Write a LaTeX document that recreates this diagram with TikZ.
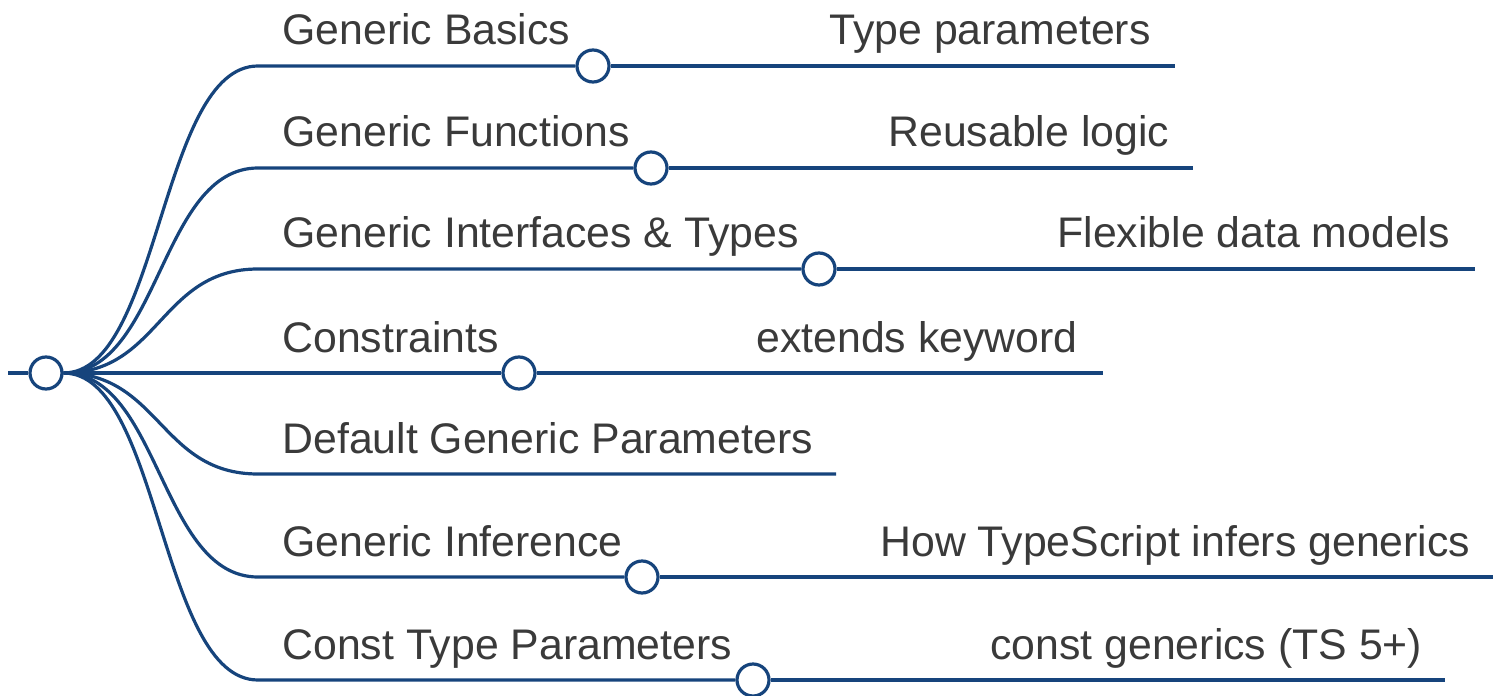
\documentclass[tikz,border=0pt]{standalone}
\usepackage{fontspec}
\setmainfont{Liberation Sans}
\definecolor{edge}{RGB}{22,68,124}
\definecolor{ink}{RGB}{58,58,58}
\begin{document}
\begin{tikzpicture}[x=0.5pt,y=-0.5pt,
  link/.style={draw=edge,line width=1.6pt},
  dot/.style={circle,draw=edge,fill=white,line width=1.6pt,minimum size=16pt,inner sep=0pt},
  lbl/.style={anchor=base west,inner sep=0pt,text=ink,font=\fontsize{21.4}{25}\selectfont}]
\useasboundingbox (0,0) rectangle (1502,695);

% root
\node[dot] (root) at (46,373) {};
\coordinate (r0) at (8,373);
\draw[link] (r0) -- (root);

% first-level labels and their knobs
\coordinate (p1s) at (258,66);
\coordinate (p2s) at (258,168);
\coordinate (p3s) at (258,269);
\coordinate (p4s) at (258,373);
\coordinate (p5s) at (258,474);
\coordinate (p6s) at (258,577);
\coordinate (p7s) at (258,680);

\node[lbl] (p1t) at (282,45) {Generic Basics};
\node[lbl] (p2t) at (282,147) {Generic Functions};
\node[lbl] (p3t) at (282,248) {Generic Interfaces \& Types};
\node[lbl] (p4t) at (282,352) {Constraints};
\node[lbl] (p5t) at (282,453) {Default Generic Parameters};
\node[lbl] (p6t) at (282,556) {Generic Inference};
\node[lbl] (p7t) at (282,659) {Const Type Parameters};

\node[dot] (p1c) at (593,66) {};
\node[dot] (p2c) at (651,168) {};
\node[dot] (p3c) at (819,269) {};
\node[dot] (p4c) at (519,373) {};
\coordinate (p5e) at (836,474);
\node[dot] (p6c) at (642,577) {};
\node[dot] (p7c) at (753,680) {};

% curved links from the root
\draw[link] (root) .. controls (160,373) and (160,66) .. (p1s) -- (p1c);
\draw[link] (root) .. controls (160,373) and (160,168) .. (p2s) -- (p2c);
\draw[link] (root) .. controls (160,373) and (160,269) .. (p3s) -- (p3c);
\draw[link] (root) -- (p4s) -- (p4c);
\draw[link] (root) .. controls (160,373) and (160,474) .. (p5s) -- (p5e);
\draw[link] (root) .. controls (160,373) and (160,577) .. (p6s) -- (p6c);
\draw[link] (root) .. controls (160,373) and (160,680) .. (p7s) -- (p7c);

% second-level leaves
\coordinate (c1e) at (1175,66);
\coordinate (c2e) at (1193,168);
\coordinate (c3e) at (1475,269);
\coordinate (c4e) at (1103,373);
\coordinate (c6e) at (1493,577);
\coordinate (c7e) at (1445,680);

\node[lbl] (c1t) at (829,45) {Type parameters};
\node[lbl] (c2t) at (888,147) {Reusable logic};
\node[lbl] (c3t) at (1057,248) {Flexible data models};
\node[lbl] (c4t) at (756,352) {extends keyword};
\node[lbl] (c6t) at (880,556) {How TypeScript infers generics};
\node[lbl] (c7t) at (990,659) {const generics (TS 5+)};

\draw[link] (p1c) -- (c1e);
\draw[link] (p2c) -- (c2e);
\draw[link] (p3c) -- (c3e);
\draw[link] (p4c) -- (c4e);
\draw[link] (p6c) -- (c6e);
\draw[link] (p7c) -- (c7e);
\end{tikzpicture}
\end{document}
